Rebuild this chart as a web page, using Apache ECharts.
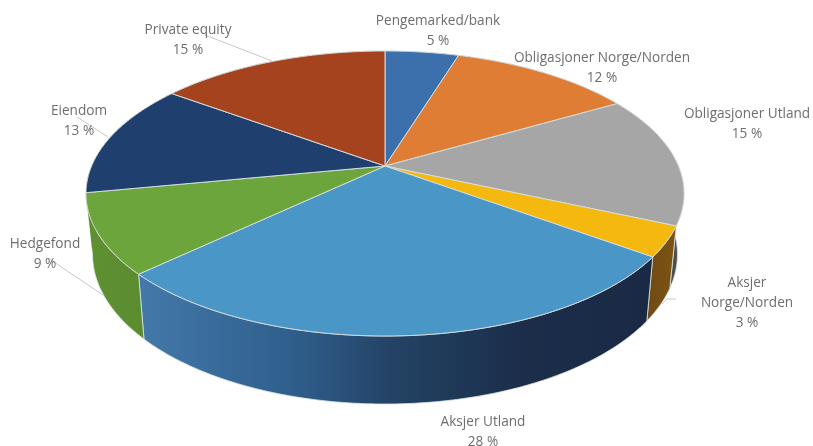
<!DOCTYPE html>
<html><head><meta charset="utf-8">
<style>html,body{margin:0;padding:0;background:#fff}#c{width:813px;height:446px;filter:blur(0.45px)}</style>
<script src="https://cdn.jsdelivr.net/npm/echarts@6/dist/echarts.min.js"></script>
</head><body><div id="c"></div>
<script>
const categories = ['Pengemarked/bank','Obligasjoner Norge/Norden','Obligasjoner Utland','Aksjer Norge/Norden','Aksjer Utland','Hedgefond','Eiendom','Private equity'];
const values = [4.8,11.9,14.9,3.4,28,9,13,15];

const topColors = ['#3b70ad','#e07d35','#a6a6a6','#f4b80f','#4a96c7','#6ca53b','#1f3f6f','#a5431f'];
const blueWallStops = [[0,'#4379aa'],[0.3,'#2f5e8c'],[0.5,'#234264'],[0.75,'#1b2d4a'],[1,'#1a2a45']];
const wallColors = [[[0,'#2a5080'],[1,'#2a5080']],[[0,'#a05a26'],[1,'#a05a26']],[[0,'#6c6c6c'],[1,'#4a4a40']],[[0,'#6e4a14'],[1,'#7e5412']],blueWallStops,[[0,'#5f9030'],[1,'#5b8c30']],[[0,'#5f9030'],[1,'#5f9030']],[[0,'#77301a'],[1,'#77301a']]];
const labelNames = [['Pengemarked/bank'],['Obligasjoner Norge/Norden'],['Obligasjoner Utland'],['Aksjer','Norge/Norden'],['Aksjer Utland'],['Hedgefond'],['Eiendom'],['Private equity']];
const labelAnchors = [[438,31],[602,68],[747,124],[747,303],[483,432],[45,254],[79,121],[188,40]];
const leaders = [[[205,35],[272,61]],[[77,117],[108,137]],[[48,258],[103,295]],[[676,299],[667,299],[662,304]]];

const CX=385, CY=166, A=137.2, B=293.4, K=0.193, SX=0.978, SY=1.05, H0=59.5;
const total = values.reduce((a,b)=>a+b,0);
function topPt(t){const X=Math.sin(t),Y=Math.cos(t),d=1+K*Y;return [CX+B*X/d,CY-A*Y/d];}
function botPt(t){const p=topPt(t);return [CX+(p[0]-CX)*SX,CY+H0+(p[1]-CY)*SY];}
function arc(a,b,fn){const n=Math.max(2,Math.ceil((b-a)/0.01)),r=[];for(let i=0;i<=n;i++)r.push(fn(a+(b-a)*i/n));return r;}
const starts=[];let acc=0;values.forEach(v=>{starts.push(acc);acc+=v;});
const ang=v=>v/total*Math.PI*2;

function wallItem(params,api){
  const i=params.dataIndex,a=ang(api.value(1)),b=a+ang(api.value(0));
  const t=arc(a,b,topPt),m=arc(a,b,botPt);
  const pts=t.concat(m.reverse());
  const stops=wallColors[i].map(s=>({offset:s[0],color:s[1]}));
  const seam=i===6?'rgba(0,0,0,0)':'#d9e4e4';
  return {type:'polygon',shape:{points:pts},style:{fill:new echarts.graphic.LinearGradient(0,0,1,0,stops),stroke:seam,lineWidth:0.8}};
}
function topItem(params,api){
  const i=params.dataIndex,a=ang(api.value(1)),b=a+ang(api.value(0));
  return {type:'polygon',shape:{points:[[CX,CY]].concat(arc(a,b,topPt))},style:{fill:topColors[i],stroke:'#d4dcdc',lineWidth:1,lineJoin:'round'}};
}
function labelItem(params,api){
  const i=params.dataIndex,L=labelAnchors[i];
  const txt=labelNames[i].concat(Math.round(api.value(0))+' %').join('\n');
  return {type:'text',style:{text:txt,x:L[0],y:L[1],align:'center',verticalAlign:'middle',fill:'#6e6e6e',font:'13.6px "Open Sans"',lineHeight:20}};
}
function leaderItem(params){
  return {type:'polyline',shape:{points:leaders[params.dataIndex]},style:{fill:'none',stroke:'#b8b8b8',lineWidth:0.8}};
}
const seriesData=values.map((v,i)=>[v,starts[i]]);
const chart=echarts.init(document.getElementById('c'),null,{renderer:'canvas'});
chart.setOption({animation:false,backgroundColor:'#fff',series:[
 {type:'custom',coordinateSystem:'none',renderItem:wallItem,data:seriesData,z:1,silent:true},
 {type:'custom',coordinateSystem:'none',renderItem:topItem,data:seriesData,z:2,silent:true},
 {type:'custom',coordinateSystem:'none',renderItem:leaderItem,data:leaders.map((l,i)=>i),z:3,silent:true},
 {type:'custom',coordinateSystem:'none',renderItem:labelItem,data:seriesData,z:4,silent:true}
]});
</script></body></html>
